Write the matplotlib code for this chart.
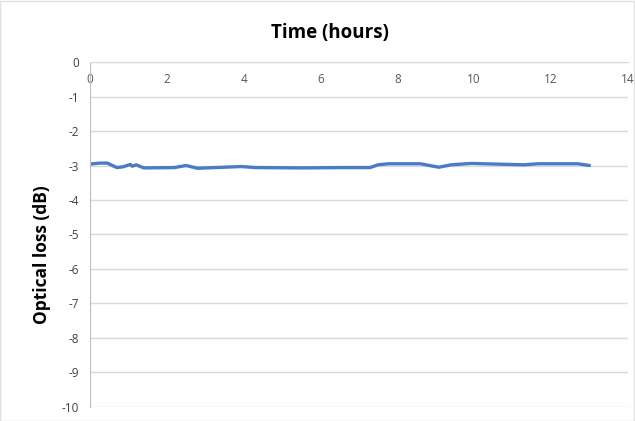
import matplotlib
matplotlib.use('Agg')
import matplotlib.pyplot as plt

# time (hours) and optical loss (dB)
hours = [0.0, 0.26, 0.45, 0.7, 0.85, 1.05, 1.1, 1.2, 1.4, 2.2, 2.5, 2.8,
         3.95, 4.3, 5.5, 6.58, 7.1, 7.29, 7.5, 7.76, 8.6, 9.08, 9.4, 9.92,
         11.3, 11.66, 12.7, 13.0]
loss = [-2.96, -2.93, -2.93, -3.06, -3.04, -2.97, -3.02, -2.98, -3.07, -3.06, -3.0, -3.08,
        -3.03, -3.06, -3.07, -3.06, -3.06, -3.06, -2.98, -2.95, -2.95, -3.05, -2.98, -2.94,
        -2.98, -2.95, -2.95, -3.0]

xticks = list(range(0, 15, 2))
yticks = list(range(-10, 1))

plt.rcParams['font.family'] = ['Open Sans', 'DejaVu Sans']
plt.rcParams['axes.unicode_minus'] = False

fig = plt.figure(figsize=(6.35, 4.21), dpi=100)
ax = fig.add_axes([0.1417, 0.0333, 0.847, 0.8194])

ax.plot(hours, loss, color='#4a7cc4', lw=2.4, solid_capstyle='round')

ax.set_xlim(0, 14)
ax.set_ylim(-10, 0)
ax.set_xticks(xticks)
ax.set_yticks(yticks)
ax.grid(axis='y', color='#d9d9d9', lw=1)
ax.set_axisbelow(True)

for s in ['right', 'bottom']:
    ax.spines[s].set_visible(False)
ax.spines['left'].set_color('#bfbfbf')
ax.spines['top'].set_color('#d9d9d9')

ax.xaxis.set_ticks_position('top')
ax.tick_params(axis='x', length=0, pad=-17, labelsize=8.5, labelcolor='#595959')
ax.tick_params(axis='y', length=0, pad=8, labelsize=8.5, labelcolor='#404040')

fig.text(0.52, 0.921, 'Time (hours)', fontsize=13.5, fontweight='bold',
         ha='center', va='center')
fig.text(0.066, 0.395, 'Optical loss (dB)', fontsize=12.5, fontweight='bold',
         ha='center', va='center', rotation=90)

fig.patches.append(plt.Rectangle((0.0, 0.0), 0.998, 0.998, transform=fig.transFigure,
                                 fill=False, edgecolor='#e0e0e0', lw=1))

fig.savefig('out.png', dpi=100)
